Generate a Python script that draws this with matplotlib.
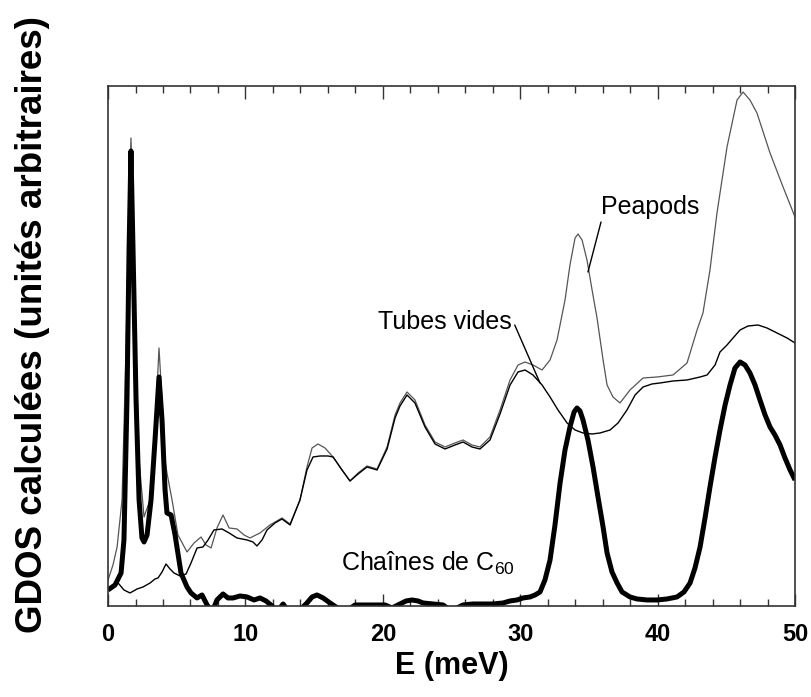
import numpy as np
import matplotlib
matplotlib.use("Agg")
import matplotlib.pyplot as plt
from matplotlib.ticker import MultipleLocator

plt.rcParams['font.family'] = ['Liberation Sans', 'DejaVu Sans']

# Peapods (thin grey curve)
pea_E = [0.00, 0.36, 0.66, 1.02, 1.31, 1.53, 1.67, 1.82, 2.04, 2.26, 2.62, 3.06, 3.42, 3.71,
         3.93, 4.15, 4.29, 4.66, 5.09, 5.75, 6.26, 6.77, 7.13, 7.50, 7.93, 8.37, 8.81, 9.39,
         9.90, 10.33, 11.06, 11.79, 12.66, 13.25, 13.97, 14.48, 14.85, 15.28, 15.79, 16.38,
         17.03, 17.61, 18.20, 18.85, 19.58, 20.31, 20.89, 21.25, 21.76, 22.34, 23.07, 23.80,
         24.53, 25.25, 25.84, 26.49, 27.07, 27.80, 28.53, 29.26, 29.84, 30.35, 30.93, 31.59,
         32.17, 32.68, 33.26, 33.62, 33.99, 34.21, 34.50, 34.86, 35.23, 35.59, 36.03, 36.32,
         36.75, 37.26, 37.99, 38.94, 39.96, 41.12, 42.14, 42.87, 43.30, 43.81, 44.32, 45.05,
         45.78, 46.22, 46.72, 47.23, 48.18, 49.13, 50.00]
pea_G = [26, 41, 59, 106, 256, 406, 468, 406, 256, 146, 89, 106, 176, 258,
         206, 146, 133, 106, 71, 54, 63, 69, 61, 58, 78, 91, 78, 77,
         71, 68, 73, 81, 88, 82, 106, 139, 158, 162, 158, 149,
         136, 125, 133, 140, 137, 159, 191, 203, 214, 206, 181, 164,
         159, 163, 166, 161, 159, 169, 196, 226, 241, 244, 241, 236,
         246, 266, 306, 341, 368, 372, 366, 346, 316, 288, 246, 221,
         209, 203, 216, 228, 229, 231, 243, 276, 293, 336, 393, 459,
         506, 514, 506, 493, 453, 419, 389]

# Tubes vides (thin black curve)
tub_E = [0.00, 0.36, 0.73, 1.16, 1.60, 2.11, 2.55, 3.06, 3.42, 3.64, 3.93, 4.22, 4.51, 4.80,
         5.24, 5.68, 6.04, 6.48, 6.91, 7.28, 7.71, 8.30, 8.81, 9.39, 10.12, 10.55, 10.84,
         11.21, 11.57, 12.15, 12.66, 13.25, 13.97, 14.48, 14.92, 15.43, 16.01, 16.38, 17.03,
         17.61, 18.20, 18.85, 19.58, 20.31, 20.89, 21.25, 21.76, 22.34, 23.07, 23.80, 24.53,
         25.25, 25.84, 26.49, 27.07, 27.80, 28.53, 29.26, 29.84, 30.35, 30.93, 31.59, 32.17,
         32.75, 33.41, 33.99, 34.57, 35.23, 35.81, 36.54, 37.12, 37.77, 38.36, 38.94, 39.59,
         40.17, 41.12, 42.14, 43.09, 43.60, 44.18, 44.54, 45.05, 45.49, 46.00, 46.58, 47.31,
         47.96, 48.69, 49.42, 50.00]
tub_G = [16, 21, 23, 16, 13, 17, 19, 23, 27, 28, 34, 42, 37, 33,
         30, 32, 43, 58, 59, 66, 76, 77, 73, 68, 66, 64, 60,
         66, 76, 83, 87, 81, 106, 136, 149, 150, 150, 149, 136,
         125, 132, 139, 136, 157, 188, 200, 211, 203, 179, 162, 157,
         161, 164, 159, 157, 166, 192, 221, 234, 236, 231, 221, 209,
         196, 183, 176, 173, 172, 173, 176, 183, 196, 211, 219, 222,
         223, 225, 226, 229, 231, 241, 254, 261, 268, 276, 280, 281,
         278, 273, 268, 263]

# Chaines de C60 (thick black curve)
c60_E = [0.00, 0.51, 0.95, 1.16, 1.38, 1.53, 1.67, 1.82, 2.04, 2.26, 2.47, 2.62, 2.84, 3.13,
         3.42, 3.71, 3.93, 4.15, 4.29, 4.59, 4.88, 5.31, 5.75, 6.04, 6.48, 6.84, 7.21, 7.57,
         7.93, 8.37, 8.73, 9.10, 9.61, 10.12, 10.63, 11.06, 11.50, 11.94, 12.30, 12.74, 13.17,
         13.97, 14.48, 14.85, 15.21, 15.65, 16.16, 16.59, 17.25, 17.98, 19.07, 20.16, 20.67,
         21.25, 21.69, 22.13, 22.56, 22.93, 23.65, 24.38, 24.89, 25.40, 25.84, 26.56, 27.29,
         28.02, 28.75, 29.26, 29.77, 30.20, 30.71, 31.08, 31.44, 31.80, 32.17, 32.53, 32.90,
         33.26, 33.62, 33.92, 34.13, 34.35, 34.57, 34.93, 35.30, 35.66, 36.03, 36.32, 36.68,
         37.05, 37.41, 37.99, 38.50, 39.23, 39.96, 40.68, 41.41, 41.92, 42.36, 42.72, 43.09,
         43.45, 43.81, 44.18, 44.54, 44.91, 45.27, 45.63, 46.00, 46.36, 46.72, 47.09, 47.45,
         47.82, 48.18, 48.54, 48.91, 49.27, 49.64, 50.00]
c60_G = [16, 21, 33, 66, 206, 356, 455, 356, 206, 106, 68, 64, 71, 106,
         166, 229, 186, 116, 93, 91, 71, 33, 19, 13, 8, 11, 1, -6,
         6, 12, 8, 8, 10, 9, 6, 8, 5, 0, -6, 2, -6,
         -4, 3, 9, 11, 8, 3, -1, -6, 1, 1, 1, -2,
         2, 5, 6, 5, 3, 2, 1, -4, -2, 1, 2, 2,
         2, 3, 5, 6, 8, 9, 11, 14, 26, 46, 81, 123,
         156, 179, 194, 198, 195, 186, 166, 139, 109, 79, 53, 34,
         23, 14, 9, 7, 6, 6, 7, 9, 14, 23, 38, 59,
         88, 119, 149, 176, 201, 221, 238, 244, 241, 233, 221, 206,
         191, 179, 171, 161, 148, 136, 126]

fig = plt.figure(figsize=(8.11, 6.97), dpi=100)
ax = fig.add_axes([0.1332, 0.1306, 0.8471, 0.746])

ax.plot(pea_E, pea_G, color='#555555', lw=0.9, solid_joinstyle='round')
ax.plot(tub_E, tub_G, color='black', lw=1.0, solid_joinstyle='round')
ax.plot(c60_E, c60_G, color='black', lw=3.6, solid_capstyle='butt', solid_joinstyle='round')

ax.set_xlim(0, 50)
ax.set_ylim(0, 520)
ax.set_yticks([])
ax.xaxis.set_major_locator(MultipleLocator(10))
ax.xaxis.set_minor_locator(MultipleLocator(2))
ax.tick_params(axis='x', which='both', direction='in', top=True, color='#333333')
ax.tick_params(axis='x', which='major', length=9, width=1, pad=12, labelsize=17)
ax.tick_params(axis='x', which='minor', length=5, width=1)
for lab in ax.get_xticklabels():
    lab.set_fontweight('bold')
for sp in ax.spines.values():
    sp.set_color('#333333')
    sp.set_linewidth(1.2)

ax.set_xlabel('E (meV)', fontsize=22, fontweight='bold', labelpad=4)
ax.set_ylabel('GDOS calculées (unités arbitraires)', fontsize=26.5, fontweight='bold')
ax.yaxis.set_label_coords(-0.084, 0.542)

# labels with their leader lines
ax.text(35.85, 399, 'Peapods', fontsize=18, ha='left', va='center')
ax.annotate('', xy=(34.93, 334), xytext=(35.88, 384),
            arrowprops=dict(arrowstyle='-', color='black', lw=1.0, shrinkA=0, shrinkB=0))
ax.text(29.4, 284, 'Tubes vides', fontsize=18, ha='right', va='center')
ax.annotate('', xy=(31.44, 223), xytext=(29.6, 281),
            arrowprops=dict(arrowstyle='-', color='black', lw=1.0, shrinkA=0, shrinkB=0))
ax.text(16.96, 43, r'Chaînes de C$_{\mathregular{60}}$', fontsize=18, ha='left', va='center')

fig.savefig('out.png', dpi=100)
